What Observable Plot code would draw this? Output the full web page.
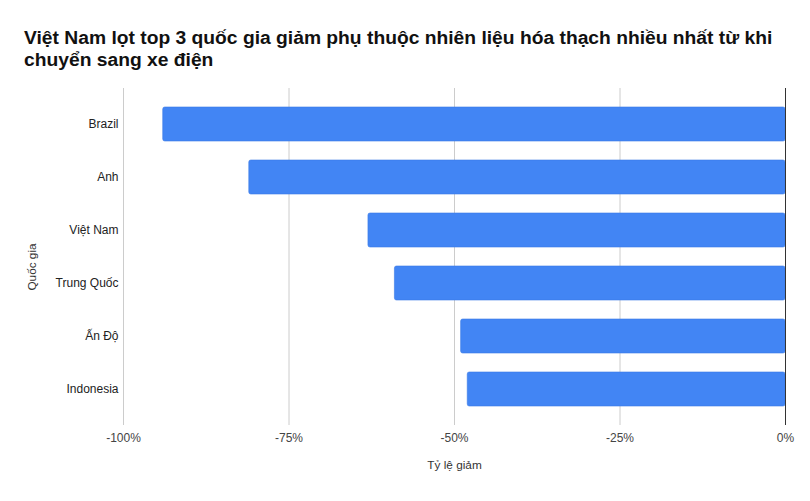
<!DOCTYPE html>
<html>
<head>
<meta charset="utf-8">
<script src="https://cdn.jsdelivr.net/npm/d3@7"></script>
<script src="https://cdn.jsdelivr.net/npm/@observablehq/plot@0.6"></script>
<style>
  html, body { margin: 0; padding: 0; background: #fff; }
  #title { font-family: "Liberation Sans", Arial, sans-serif; font-weight: bold; font-size: 19.25px; line-height: 22px; color: #111; padding: 27px 10px 0 24px; height: 48px; box-sizing: content-box; }
  #chart svg { display: block; }
</style>
</head>
<body>
<div id="title">Việt Nam lọt top 3 quốc gia giảm phụ thuộc nhiên liệu hóa thạch nhiều nhất từ khi chuyển sang xe điện</div>
<div id="chart"></div>
<script>
const countries = ["Brazil", "Anh", "Việt Nam", "Trung Quốc", "Ấn Độ", "Indonesia"];
const values = [-94, -81, -63, -59, -49, -48];
const xTicks = [-100, -75, -50, -25, 0];
const xLabel = "Tỷ lệ giảm";
const yLabel = "Quốc gia";

const data = countries.map((c, i) => ({country: c, value: values[i]}));

const chart = Plot.plot({
  width: 810,
  height: 426,
  marginTop: 13,
  marginBottom: 76,
  marginLeft: 123,
  marginRight: 25,
  style: {fontFamily: "'Liberation Sans', Arial, sans-serif", fontSize: "12px", background: "#fff"},
  x: {domain: [-100, 0], ticks: xTicks, tickFormat: d => `${d}%`},
  y: {domain: countries, paddingInner: 0.36, paddingOuter: 0.35},
  marks: [
    Plot.gridX(xTicks.filter(d => d !== 0), {stroke: "#ccc", strokeOpacity: 1, strokeWidth: 1}),
    Plot.barX(data, {x: d => d.value, y: "country", fill: "#4285f4", stroke: "#3b7ae6", strokeWidth: 0.6, rx: 2}),
    Plot.ruleX([0], {stroke: "#333", strokeWidth: 1}),
    Plot.axisX({ticks: xTicks, tickFormat: d => `${d}%`, tickSize: 0, tickPadding: 8, label: null, fill: "#444", fontSize: 12}),
    Plot.axisY({tickSize: 0, tickPadding: 5, label: null, fill: "#222", fontSize: 12}),
    Plot.text([xLabel], {frameAnchor: "bottom", dy: 43, text: d => d, fill: "#333", fontSize: 11.8}),
    Plot.text([yLabel], {frameAnchor: "left", dx: -91, dy: 10, rotate: -90, textAnchor: "middle", text: d => d, fill: "#333", fontSize: 11.8})
  ]
});
document.getElementById("chart").appendChild(chart);
</script>
</body>
</html>
